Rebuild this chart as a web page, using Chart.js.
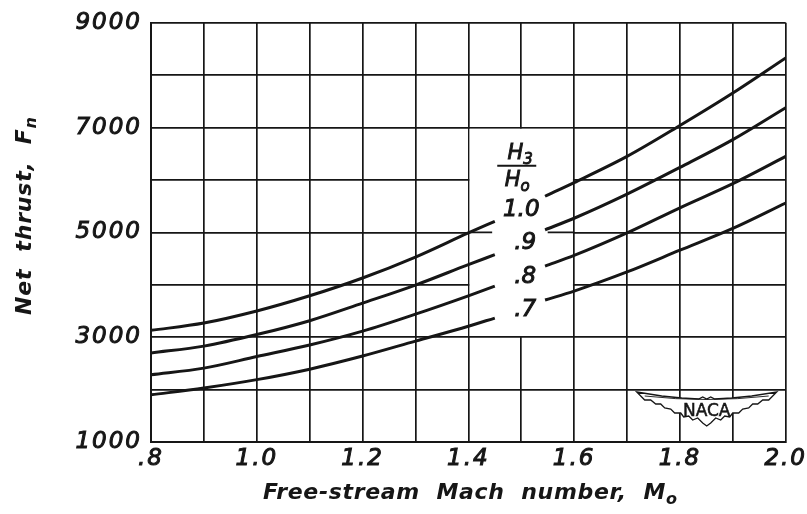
<!DOCTYPE html>
<html>
<head>
<meta charset="utf-8">
<script src="https://cdn.jsdelivr.net/npm/chart.js@4/dist/chart.umd.min.js"></script>
<style>
  html, body { margin: 0; padding: 0; background: #fff; }
  canvas { display: block; }
</style>
</head>
<body>
<canvas id="thrust" width="807" height="514"></canvas>
<script>
// Free-stream Mach number for the two drawn pieces of every curve
// (each curve is interrupted where the H3/H0 labels sit).
const machLow  = [0.8, 0.9, 1.0, 1.1, 1.2, 1.3, 1.4, 1.45];
const machHigh = [1.545, 1.6, 1.7, 1.8, 1.9, 2.0];

// Net thrust Fn for each total-pressure ratio H3/H0
const thrust10Low  = [3130, 3270, 3500, 3790, 4130, 4530, 4990, 5210];
const thrust10High = [5690, 5950, 6450, 7040, 7660, 8330];
const thrust09Low  = [2700, 2830, 3050, 3315, 3650, 3995, 4385, 4575];
const thrust09High = [5050, 5270, 5730, 6240, 6770, 7380];
const thrust08Low  = [2283, 2410, 2630, 2850, 3115, 3440, 3790, 3975];
const thrust08High = [4355, 4560, 4990, 5470, 5930, 6450];
const thrust07Low  = [1900, 2030, 2190, 2390, 2640, 2925, 3210, 3365];
const thrust07High = [3710, 3880, 4245, 4660, 5075, 5560];

const ratioLabels = ['1.0', '.9', '.8', '.7'];
const xTickLabels = ['.8', '1.0', '1.2', '1.4', '1.6', '1.8', '2.0'];
const yTickLabels = ['1000', '3000', '5000', '7000', '9000'];

const INK = '#161616';
const FAMILY = '"DejaVu Sans", "Liberation Sans", sans-serif';

function curvePoints(low, high) {
  const pts = low.map((v, i) => ({ x: machLow[i], y: v }));
  pts.push({ x: 1.5, y: null });
  high.forEach((v, i) => pts.push({ x: machHigh[i], y: v }));
  return pts;
}

const series = [
  [thrust10Low, thrust10High],
  [thrust09Low, thrust09High],
  [thrust08Low, thrust08High],
  [thrust07Low, thrust07High]
];

// Draw a run of text pieces (some as subscripts), optionally spread to a width.
function drawRich(ctx, pieces, x, y, size, width, align, weight, stroke) {
  ctx.save();
  ctx.letterSpacing = '0px';
  const fontOf = p => `italic ${weight} ${p.sub ? Math.round(size * 0.72) : size}px ${FAMILY}`;
  let natural = 0, chars = 0;
  pieces.forEach(p => { ctx.font = fontOf(p); natural += ctx.measureText(p.t).width; chars += p.t.length; });
  const spacing = width ? Math.max(0, (width - natural) / (chars - 1)) : 0;
  ctx.letterSpacing = spacing + 'px';
  let total = 0;
  pieces.forEach(p => { ctx.font = fontOf(p); total += ctx.measureText(p.t).width; });
  total -= spacing;
  let cx = align === 'center' ? x - total / 2 : x;
  ctx.textBaseline = 'middle';
  ctx.textAlign = 'left';
  ctx.fillStyle = INK;
  ctx.strokeStyle = INK;
  ctx.lineWidth = stroke;
  pieces.forEach(p => {
    ctx.font = fontOf(p);
    const ty = p.sub ? y + size * 0.32 : y;
    ctx.fillText(p.t, cx, ty);
    if (stroke > 0) ctx.strokeText(p.t, cx, ty);
    cx += ctx.measureText(p.t).width;
  });
  ctx.restore();
}

function drawNaca(ctx, cx, cy) {
  const right = [[70,-13],[62,-5],[56,-5],[51,-1],[46,-1],[42,3],[36,4],[32,8],[26,8],[23,12],[18,11],[14,15],[9,13],[4,18],[0,21]];
  const topRight = [[0,-6],[4,-8],[8,-6],[25,-7],[45,-9],[70,-13]];
  ctx.save();
  ctx.beginPath();
  for (let i = topRight.length - 1; i >= 0; i--) {
    const [px, py] = topRight[i];
    if (i === topRight.length - 1) ctx.moveTo(cx - px, cy + py); else ctx.lineTo(cx - px, cy + py);
  }
  for (let i = 1; i < topRight.length; i++) ctx.lineTo(cx + topRight[i][0], cy + topRight[i][1]);
  for (let i = 1; i < right.length; i++) ctx.lineTo(cx + right[i][0], cy + right[i][1]);
  for (let i = right.length - 2; i >= 0; i--) ctx.lineTo(cx - right[i][0], cy + right[i][1]);
  ctx.closePath();
  ctx.fillStyle = '#fff';
  ctx.fill();
  ctx.lineWidth = 1.3;
  ctx.strokeStyle = INK;
  ctx.stroke();
  // inner line along the upper edge
  ctx.beginPath();
  ctx.moveTo(cx - 62, cy - 9);
  ctx.quadraticCurveTo(cx, cy - 2, cx + 62, cy - 9);
  ctx.lineWidth = 0.9;
  ctx.stroke();
  ctx.fillStyle = INK;
  ctx.font = `17px ${FAMILY}`;
  ctx.textAlign = 'center';
  ctx.textBaseline = 'middle';
  ctx.letterSpacing = '0px';
  ctx.fillText('NACA', cx, cy + 7);
  ctx.lineWidth = 0.5;
  ctx.strokeText('NACA', cx, cy + 7);
  ctx.restore();
}

const decorations = {
  id: 'decorations',
  beforeDraw(chart) {
    chart.ctx.letterSpacing = '2px';
  },
  beforeDatasetsDraw(chart) {
    const { ctx, scales: { x, y } } = chart;
    const x0 = x.getPixelForValue(1.4), x1 = x.getPixelForValue(1.6);
    const y0 = y.getPixelForValue(7000), y1 = y.getPixelForValue(3000);
    ctx.save();
    // clear the grid cells that hold the H3/H0 labels
    ctx.fillStyle = '#fff';
    ctx.fillRect(x0 + 1.2, y0 + 1.2, x1 - x0 - 2.4, y1 - y0 - 2.4);
    // short pieces of the 5000 line on either side of the labels
    const y5 = y.getPixelForValue(5000);
    ctx.strokeStyle = INK;
    ctx.lineWidth = 1.7;
    ctx.beginPath();
    ctx.moveTo(x0, y5); ctx.lineTo(x.getPixelForValue(1.445), y5);
    ctx.moveTo(x.getPixelForValue(1.55), y5); ctx.lineTo(x1, y5);
    ctx.stroke();
    ctx.restore();
  },
  afterDatasetsDraw(chart) {
    const { ctx, scales: { x, y }, chartArea } = chart;
    ctx.letterSpacing = '0px';
    const cx = x.getPixelForValue(1.5);
    // H3 / H0 fraction
    drawRich(ctx, [{ t: 'H' }, { t: '3', sub: true }], cx - 1, y.getPixelForValue(6500), 21, 0, 'center', 'normal', 0.9);
    ctx.save();
    ctx.strokeStyle = INK; ctx.lineWidth = 2;
    ctx.beginPath();
    const yb = y.getPixelForValue(6270);
    ctx.moveTo(cx - 24, yb); ctx.lineTo(cx + 15, yb);
    ctx.stroke();
    ctx.restore();
    drawRich(ctx, [{ t: 'H' }, { t: 'o', sub: true }], cx - 4, y.getPixelForValue(5990), 21, 0, 'center', 'normal', 0.9);
    const labelY = [5420, 4800, 4150, 3520];
    ratioLabels.forEach((t, i) => {
      drawRich(ctx, [{ t }], cx + (i === 0 ? 0 : 4), y.getPixelForValue(labelY[i]), 23, 0, 'center', 'normal', 1.0);
    });
    drawNaca(ctx, chartArea.right - 79, chartArea.bottom - 37);
  },
  afterDraw(chart) {
    const { ctx } = chart;
    ctx.letterSpacing = '0px';
    // axis titles
    drawRich(ctx, [{ t: 'Free-stream  Mach  number,  M' }, { t: 'o', sub: true }],
      470, 493, 22, 414, 'center', 'bold', 0);
    ctx.save();
    ctx.translate(25, 216);
    ctx.rotate(-Math.PI / 2);
    drawRich(ctx, [{ t: 'Net  thrust,  F' }, { t: 'n', sub: true }], 0, 0, 22, 198, 'center', 'bold', 0);
    ctx.restore();
  }
};

const tickFont = { family: FAMILY, size: 23, style: 'italic', weight: 'normal' };

new Chart(document.getElementById('thrust'), {
  type: 'line',
  data: {
    datasets: series.map(([low, high], i) => ({
      label: ratioLabels[i],
      data: curvePoints(low, high),
      borderColor: INK,
      borderWidth: 3,
      pointRadius: 0,
      fill: false,
      spanGaps: false,
      cubicInterpolationMode: 'monotone'
    }))
  },
  options: {
    responsive: false,
    animation: false,
    layout: { padding: { top: 18, right: 20, left: 0, bottom: 0 } },
    plugins: { legend: { display: false }, tooltip: { enabled: false } },
    scales: {
      x: {
        type: 'linear', min: 0.8, max: 2.0,
        ticks: {
          stepSize: 0.1, autoSkip: false, maxRotation: 0, padding: 3,
          color: INK, font: tickFont, textStrokeColor: INK, textStrokeWidth: 1.0,
          callback: (v, i) => (i % 2 === 0 ? xTickLabels[i / 2] : '')
        },
        grid: { color: INK, lineWidth: 1.7, drawTicks: false },
        border: { color: INK, width: 2 },
        afterFit(s) { s.height = 72; }
      },
      y: {
        type: 'linear', min: 1000, max: 9000,
        ticks: {
          stepSize: 1000, padding: 9,
          color: INK, font: tickFont, textStrokeColor: INK, textStrokeWidth: 1.0,
          callback: (v, i) => (i % 2 === 0 ? yTickLabels[i / 2] : '')
        },
        grid: { color: INK, lineWidth: 1.7, drawTicks: false },
        border: { color: INK, width: 2 },
        afterFit(s) { s.width = 151; }
      }
    }
  },
  plugins: [decorations]
});
</script>
</body>
</html>
